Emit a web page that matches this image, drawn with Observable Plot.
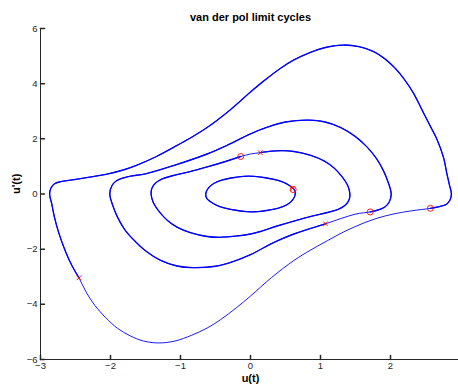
<!DOCTYPE html>
<html><head><meta charset="utf-8">
<script src="https://cdn.jsdelivr.net/npm/d3@7"></script>
<script src="https://cdn.jsdelivr.net/npm/@observablehq/plot@0.6"></script>
<style>html,body{margin:0;padding:0;background:#fff;overflow:hidden}svg{display:block}</style>
</head><body><div id="chart"></div>
<script>
// Each cycle is listed counter-clockwise, starting at its "o" marker.
const cycle1 = [[0.62,0.18],[0.56,0.30],[0.49,0.40],[0.38,0.50],[0.21,0.59],[0.05,0.64],[-0.10,0.64],[-0.25,0.59],[-0.40,0.51],[-0.52,0.39],[-0.60,0.22],[-0.64,0.00],
  [-0.62,-0.18],[-0.56,-0.30],[-0.49,-0.40],[-0.38,-0.50],[-0.21,-0.59],[-0.05,-0.64],[0.10,-0.64],[0.25,-0.59],[0.40,-0.51],[0.52,-0.39],[0.60,-0.22],[0.64,0.00]];
const cycle2 = [[-0.14,1.36],[-0.38,1.16],[-0.62,0.98],[-0.88,0.80],[-1.10,0.67],[-1.26,0.55],[-1.36,0.39],[-1.41,0.20],[-1.42,0.00],[-1.39,-0.30],[-1.31,-0.62],[-1.19,-0.95],[-1.05,-1.20],[-0.86,-1.40],[-0.62,-1.54],[-0.45,-1.57],[-0.22,-1.53],[0.00,-1.45],
  [0.14,-1.36],[0.38,-1.16],[0.62,-0.98],[0.88,-0.80],[1.10,-0.67],[1.26,-0.55],[1.36,-0.39],[1.41,-0.20],[1.42,0.00],[1.39,0.30],[1.31,0.62],[1.19,0.95],[1.05,1.20],[0.86,1.40],[0.62,1.54],[0.45,1.57],[0.22,1.53],[0.14,1.50],[0.00,1.45]];
const cycle3 = [[1.71,-0.65],[1.82,-0.58],[1.92,-0.47],[1.98,-0.30],[2.01,0.00],[1.97,0.40],[1.90,0.84],[1.80,1.28],[1.67,1.69],[1.50,2.08],[1.29,2.41],[1.05,2.62],[0.83,2.68],[0.50,2.61],[0.25,2.43],[0.00,2.18],[-0.33,1.77],[-0.62,1.45],[-1.10,1.03],[-1.50,0.73],
  [-1.71,0.65],[-1.82,0.58],[-1.92,0.47],[-1.98,0.30],[-2.01,0.00],[-1.97,-0.40],[-1.90,-0.84],[-1.80,-1.28],[-1.67,-1.66],[-1.50,-2.06],[-1.29,-2.40],[-1.05,-2.61],[-0.83,-2.67],[-0.50,-2.62],[-0.25,-2.45],[0.00,-2.20],[0.33,-1.76],[0.62,-1.45],[1.07,-1.08],[1.50,-0.73]];
const cycle4 = [[2.57,-0.52],[2.71,-0.45],[2.80,-0.37],[2.85,-0.22],[2.87,0.00],[2.84,0.35],[2.80,0.80],[2.76,1.30],[2.66,2.00],[2.57,2.45],[2.45,3.05],[2.33,3.65],[2.20,4.15],[2.07,4.55],[1.92,4.90],[1.76,5.16],[1.55,5.34],[1.33,5.40],[1.10,5.33],[0.84,5.12],[0.62,4.86],[0.43,4.56],[0.20,4.12],[0.00,3.70],[-0.30,3.03],[-0.62,2.41],[-0.86,2.03],[-1.10,1.69],[-1.35,1.35],[-1.62,1.05],[-1.82,0.87],[-2.05,0.72],[-2.30,0.61],[-2.52,0.52],[-2.71,0.45],[-2.80,0.37],[-2.85,0.22],[-2.87,0.00],
  [-2.84,-0.35],[-2.80,-0.85],[-2.74,-1.40],[-2.64,-2.10],[-2.55,-2.60],[-2.45,-3.04],[-2.35,-3.55],[-2.22,-4.05],[-2.07,-4.48],[-1.90,-4.87],[-1.72,-5.14],[-1.53,-5.33],[-1.31,-5.40],[-1.08,-5.33],[-0.84,-5.12],[-0.62,-4.86],[-0.43,-4.56],[-0.20,-4.12],[0.00,-3.70],[0.30,-3.03],[0.62,-2.41],[0.86,-2.03],[1.10,-1.69],[1.35,-1.35],[1.62,-1.05],[1.82,-0.87],[2.05,-0.72],[2.30,-0.61]];
const startMarks = [[0.61,0.16],[-0.14,1.36],[1.71,-0.65],[2.57,-0.52]];
const endMarks = [[0.60,0.21],[0.14,1.50],[1.07,-1.08],[-2.45,-3.04]];
const xTicks = [-3,-2,-1,0,1,2];
const yTicks = [-6,-4,-2,0,2,4,6];
const titleText = "van der pol limit cycles";
const xLabel = "u(t)";
const yLabel = "u'(t)";

const cycles = [cycle1, cycle2, cycle3, cycle4];
// portion traced a second time: from the start marker counter-clockwise up to the end marker
function overlap(ring, end) {
  const ext = ring.concat([ring[0]]);
  let k = 1, best = Infinity;
  for (let i = 1; i < ext.length; i++) {
    const d = Math.hypot(ext[i][0]-end[0], ext[i][1]-end[1]);
    if (d < best) { best = d; k = i; }
  }
  const seg = ext.slice(0, k+1);
  if (best > 1e-9) seg.push(end);
  return seg;
}
const fmt = d => (d < 0 ? "\u2212" + Math.abs(d) : String(d));
const tickShape = {draw(ctx, l) { ctx.moveTo(0, 0); ctx.lineTo(0, -l); }};
const blue = "#0000ff", red = "#ff0000", axisColor = "#262626";
const font = "'Liberation Sans', Arial, Helvetica, sans-serif";

const marks = [];
cycles.forEach((c, i) => {
  marks.push(Plot.line(c, {x: d => d[0], y: d => d[1], stroke: blue, strokeWidth: 0.9, curve: "catmull-rom-closed"}));
  marks.push(Plot.line(overlap(c, endMarks[i]), {x: d => d[0], y: d => d[1], stroke: blue, strokeWidth: 1.35, curve: "catmull-rom"}));
});
marks.push(Plot.dot(startMarks, {x: d => d[0], y: d => d[1], r: 3, stroke: red, strokeWidth: 0.9, fill: "none"}));
marks.push(Plot.dot(endMarks, {x: d => d[0], y: d => d[1], r: 2.2, symbol: "times", stroke: red, strokeWidth: 0.9}));

const svg = Plot.plot({
  width: 458, height: 384,
  marginLeft: 40, marginRight: -2, marginTop: 28, marginBottom: 25,
  style: {fontFamily: font, fontSize: "10px", color: axisColor, background: "#fff", overflow: "visible"},
  x: {domain: [-3, 3]},
  y: {domain: [-6, 6]},
  marks: [
    ...marks,
    Plot.ruleY([-6], {stroke: axisColor, strokeWidth: 1}),
    Plot.ruleX([-3], {stroke: axisColor, strokeWidth: 1}),
    Plot.vector(xTicks, {x: d => d, frameAnchor: "bottom", length: 4, anchor: "start", rotate: 0, shape: tickShape, stroke: axisColor}),
    Plot.vector(yTicks, {y: d => d, frameAnchor: "left", length: 4, anchor: "start", rotate: 90, shape: tickShape, stroke: axisColor}),
    Plot.axisX({ticks: xTicks, tickSize: 0, tickPadding: 3, label: null, fontSize: 9.5, tickFormat: fmt}),
    Plot.axisY({ticks: yTicks, tickSize: 0, tickPadding: 3, label: null, fontSize: 9.5, tickFormat: fmt}),
    Plot.text([titleText], {frameAnchor: "top", dy: -15, text: d => d, fontWeight: "bold", fontSize: 11, fill: "#000"}),
    Plot.text([xLabel], {frameAnchor: "bottom", dy: 22, text: d => d, fontWeight: "bold", fontSize: 11, fill: "#000"}),
    Plot.text([yLabel], {frameAnchor: "left", dx: -24, rotate: -90, text: d => d, fontWeight: "bold", fontSize: 11, fill: "#000"})
  ]
});
document.getElementById("chart").append(svg);
</script>
</body></html>
